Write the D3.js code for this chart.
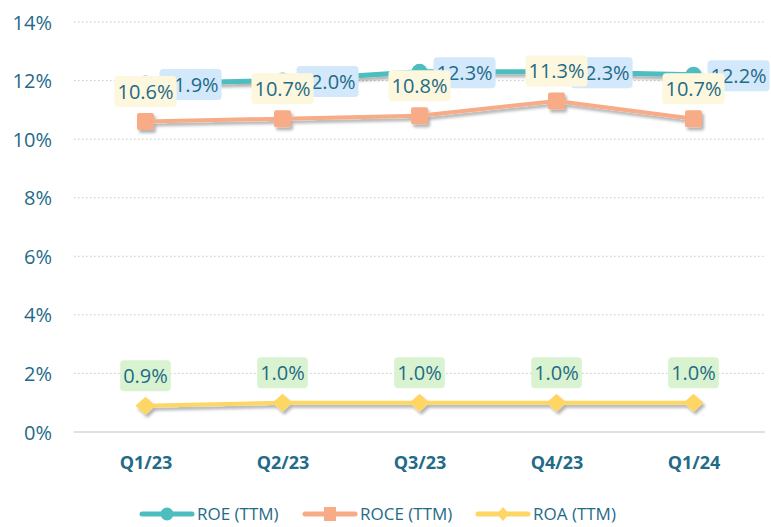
<!DOCTYPE html>
<html><head><meta charset="utf-8">
<script src="https://cdn.jsdelivr.net/npm/d3@7/dist/d3.min.js"></script>
<style>body{margin:0;background:#fff}svg{display:block;font-family:"Open Sans",sans-serif}</style>
</head><body><svg id="c" width="771" height="527"></svg>
<script>
const categories = ["Q1/23","Q2/23","Q3/23","Q4/23","Q1/24"];
const roe = [11.9, 12.0, 12.3, 12.3, 12.2];
const roce = [10.6, 10.7, 10.8, 11.3, 10.7];
const roa = [0.9, 1.0, 1.0, 1.0, 1.0];
const yTicks = [0,2,4,6,8,10,12,14];
const seriesNames = ["ROE (TTM)","ROCE (TTM)","ROA (TTM)"];

const svg = d3.select("#c");
const textColor = "#1f6b88";
const colors = {roe:"#4dbdc0", roce:"#f7ab86", roa:"#fdd663"};
const boxColors = {roe:"#d3e8fb", roce:"#fdf7dd", roa:"#d9f3d0"};

const defs = svg.append("defs");
const f = defs.append("filter").attr("id","sh").attr("x","-20%").attr("y","-50%").attr("width","140%").attr("height","200%");
f.append("feDropShadow").attr("dx",2).attr("dy",3).attr("stdDeviation",1.5).attr("flood-color","#000").attr("flood-opacity",0.3);

const x = d3.scalePoint().domain(categories).range([77,762]).padding(0.5);
const y = d3.scaleLinear().domain([0,14]).range([432,22]);

// grid
const gx0 = 74, gx1 = 765;
svg.append("g").selectAll("line").data(yTicks).join("line")
  .attr("x1",gx0).attr("x2",gx1).attr("y1",d=>y(d)).attr("y2",d=>y(d))
  .attr("stroke",d=>d===0?"#d6d6d6":"#c8c8c8")
  .attr("stroke-width",d=>d===0?1.5:1)
  .attr("stroke-dasharray",d=>d===0?null:"1.5,2.5");

// y axis labels
const yAxis = d3.axisLeft(y).tickValues(yTicks).tickFormat(d=>d+"%").tickSize(0).tickPadding(0);
const ya = svg.append("g").attr("transform","translate(52,0)").call(yAxis);
ya.select(".domain").remove();
ya.selectAll("text").attr("fill",textColor).attr("font-size",20).attr("font-family","Open Sans, sans-serif").attr("dy","0.35em");

// x axis labels
const xAxis = d3.axisBottom(x).tickSize(0).tickPadding(0);
const xa = svg.append("g").attr("transform","translate(0,463)").call(xAxis);
xa.select(".domain").remove();
xa.selectAll("text").attr("fill",textColor).attr("font-size",18).attr("font-weight","bold").attr("font-family","Open Sans, sans-serif").attr("dy","0.35em");

const line = d3.line().x((d,i)=>x(categories[i])).y(d=>y(d));

function drawSeries(data, key, width, marker){
  const g = svg.append("g").attr("filter","url(#sh)");
  g.append("path").datum(data).attr("d",line).attr("fill","none").attr("stroke",colors[key]).attr("stroke-width",width).attr("stroke-linejoin","round");
  data.forEach((d,i)=>{
    const cx = x(categories[i]), cy = y(d);
    if(marker==="circle") g.append("circle").attr("cx",cx).attr("cy",cy).attr("r",8).attr("fill",colors[key]);
    else if(marker==="square") g.append("rect").attr("x",cx-8.5).attr("y",cy-8.5).attr("width",17).attr("height",17).attr("rx",2).attr("fill",colors[key]);
    else g.append("path").attr("d",`M${cx-10},${cy}L${cx},${cy-9}L${cx+10},${cy}L${cx},${cy+9}Z`).attr("fill",colors[key]);
  });
}
drawSeries(roa,"roa",4,"diamond");
drawSeries(roce,"roce",4,"square");
drawSeries(roe,"roe",5,"circle");

function drawLabels(data, key, pos){
  const g = svg.append("g");
  data.forEach((d,i)=>{
    const cx = x(categories[i]), cy = y(d);
    const t = g.append("text").text(d.toFixed(1)+"%").attr("font-size",20).attr("fill",textColor).attr("dy","0.35em");
    const w = t.node().getComputedTextLength();
    let bx, by, h = 31, pad = 3;
    if(pos==="right"){ bx = cx+14; by = cy - h/2 + 1; }
    else { bx = cx - w/2 - pad; by = cy - 30 - h/2; }
    t.attr("x",bx+pad).attr("y",by+h/2);
    g.insert("rect","text:last-child").attr("x",bx).attr("y",by).attr("width",w+2*pad).attr("height",h).attr("rx",4).attr("fill",boxColors[key]);
    t.raise();
  });
}
drawLabels(roa,"roa","top");
drawLabels(roe,"roe","right");
drawLabels(roce,"roce","top");

// legend
const legendItems = [
  {name:seriesNames[0], key:"roe", m:"circle", x:142},
  {name:seriesNames[1], key:"roce", m:"square", x:305},
  {name:seriesNames[2], key:"roa", m:"diamond", x:478}
];
const lg = svg.append("g");
const ly = 514;
legendItems.forEach(it=>{
  lg.append("line").attr("x1",it.x).attr("x2",it.x+50).attr("y1",ly).attr("y2",ly).attr("stroke",colors[it.key]).attr("stroke-width",5).attr("stroke-linecap","round");
  const mx = it.x+25;
  if(it.m==="circle") lg.append("circle").attr("cx",mx).attr("cy",ly).attr("r",6.5).attr("fill",colors[it.key]);
  else if(it.m==="square") lg.append("rect").attr("x",mx-6).attr("y",ly-7).attr("width",12).attr("height",14).attr("fill",colors[it.key]);
  else lg.append("path").attr("d",`M${mx-6},${ly}L${mx},${ly-7}L${mx+6},${ly}L${mx},${ly+7}Z`).attr("fill",colors[it.key]);
  lg.append("text").attr("x",it.x+55).attr("y",ly).attr("dy","0.35em").attr("font-size",17).attr("fill",textColor).text(it.name);
});
</script></body></html>
